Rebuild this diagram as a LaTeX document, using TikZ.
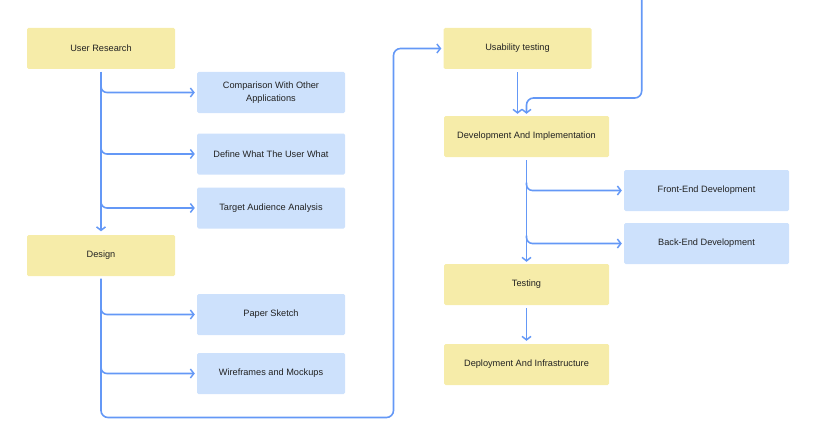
\documentclass[tikz,border=0pt]{standalone}
\usepackage{fontspec}
\setmainfont{Liberation Sans}
\usetikzlibrary{arrows.meta,calc}
\definecolor{ybox}{HTML}{F6ECA9}
\definecolor{bbox}{HTML}{CDE1FC}
\definecolor{lin}{HTML}{6498F6}
\definecolor{txt}{HTML}{222222}
\begin{document}
\begin{tikzpicture}[x=1pt,y=-1pt,
  basebox/.style={rectangle,rounded corners=1.5pt,inner sep=0pt,align=center,
    font=\fontsize{9.2}{13.3}\selectfont,text=txt},
  yellowbox/.style={basebox,fill=ybox,minimum width=148pt,minimum height=41pt},
  yellowwide/.style={basebox,fill=ybox,minimum width=165pt,minimum height=41pt},
  bluebox/.style={basebox,fill=bbox,minimum width=148pt,minimum height=41pt},
  bluewide/.style={basebox,fill=bbox,minimum width=165pt,minimum height=41pt},
  arr/.style={draw=lin,line width=1.6pt,-{Straight Barb[length=3.5pt,width=9pt,line width=1.5pt]},shorten >=2pt}
]
\useasboundingbox (0,0) rectangle (817,436);
% left column
\node[yellowbox] (ur) at (101,48.5) {User Research};
\node[bluebox] (comp) at (271,92.5) {Comparison With Other\\Applications};
\node[bluebox] (def) at (271,154) {Define What The User What};
\node[bluebox] (tgt) at (271,208) {Target Audience Analysis};
\node[yellowbox] (des) at (101,255.5) {Design};
\node[bluebox] (pap) at (271,314.5) {Paper Sketch};
\node[bluebox] (wire) at (271,373.5) {Wireframes and Mockups};
% right column
\node[yellowbox] (us) at (517.5,48.5) {Usability testing};
\node[yellowwide] (dev) at (526.5,136.5) {Development And Implementation};
\node[bluewide] (fe) at (706.5,190.5) {Front-End Development};
\node[bluewide] (be) at (706.5,243.5) {Back-End Development};
\node[yellowwide] (tst) at (526.5,284.5) {Testing};
\node[yellowwide] (dep) at (526.5,364.5) {Deployment And Infrastructure};
\coordinate (topin) at (641.7,0);
\coordinate (lb) at (101,417.5);
\coordinate (rb) at (393.5,417.5);
\coordinate (rt) at (393.5,48.5);
\coordinate (tr) at (641.7,98);
\coordinate (tl) at (526.5,98);
% connectors
\draw[arr,shorten <=2.5pt,shorten >=3.5pt] (ur.south) -- (des.north);
\draw[arr,rounded corners=6pt] ([yshift=8pt]ur.south |- comp.west) |- (comp.west);
\draw[arr,rounded corners=6pt] ([yshift=8pt]ur.south |- def.west) |- (def.west);
\draw[arr,rounded corners=6pt] ([yshift=8pt]ur.south |- tgt.west) |- (tgt.west);
\draw[arr,rounded corners=6pt] ([yshift=8pt]des.south |- pap.west) |- (pap.west);
\draw[arr,rounded corners=6pt] ([yshift=8pt]des.south |- wire.west) |- (wire.west);
\draw[arr,rounded corners=7pt,shorten <=2.5pt] (des.south) -- (lb) -- (rb) -- (rt) -- (us.west);
\draw[arr,shorten <=3pt] (us.south) -- (us.south |- dev.north);
\draw[arr,rounded corners=7pt] (topin) -- (tr) -- (tl) -- (dev.north);
\draw[arr,shorten <=3pt] (dev.south) -- (tst.north);
\draw[arr,rounded corners=6pt] ([yshift=8pt]dev.south |- fe.west) |- (fe.west);
\draw[arr,rounded corners=6pt] ([yshift=8pt]dev.south |- be.west) |- (be.west);
\draw[arr,shorten <=3pt,shorten >=3pt] (tst.south) -- (dep.north);
\end{tikzpicture}
\end{document}
